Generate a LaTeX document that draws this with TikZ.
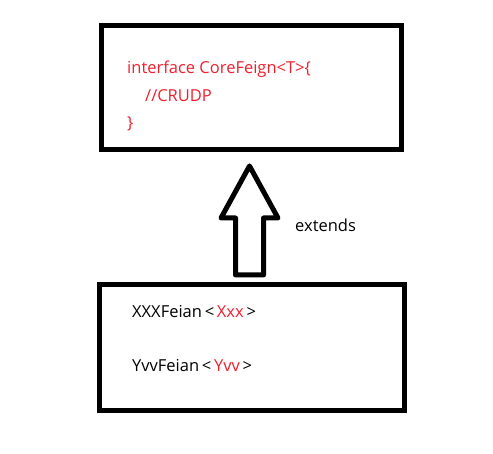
\documentclass[tikz,border=0pt]{standalone}
\usepackage{fontspec}
\setmainfont{Open Sans}
\usetikzlibrary{positioning}
\definecolor{codered}{RGB}{240,30,45}

\begin{document}
\begin{tikzpicture}[x=1pt, y=1pt,
		box/.style={draw, line width=5pt, inner sep=0pt},
		code/.style={anchor=base west, inner sep=0pt, font=\fontsize{16.5}{20}\selectfont},
		hollow/.style={draw, line width=5pt, line join=round}]
		\useasboundingbox (0,0) rectangle (493,454);

		\node[box, minimum width=300pt, minimum height=124pt] (core) at (251,366) {};
		\node[box, minimum width=305pt, minimum height=126pt] (impl) at (252,106.5) {};

		\node[code, text=codered] (l1) at (127,380) {interface CoreFeign<T>\{};
		\node[code, text=codered] (l2) at (145,352) {//CRUDP};
		\node[code, text=codered] (l3) at (127,325) {\}};

		\node[code] (xxx) at (132,136) {XXXFeian\,<\,\textcolor{codered}{Xxx}\,>};
		\node[code] (yvv) at (132,82) {YvvFeian\,<\,\textcolor{codered}{Yvv}\,>};

		\coordinate (tail) at (249.5,179);
		\coordinate (tip) at (249.5,288);
		\draw[hollow] ([xshift=-14pt]tail) -- ++(0,57) -- ++(-14.5,0) -- (tip)
			-- ++(28.5,-52) -- ++(-14.5,0) -- ([xshift=14pt]tail) -- cycle;
		\node[code] (ext) at (295,222) {extends};
	\end{tikzpicture}
\end{document}
